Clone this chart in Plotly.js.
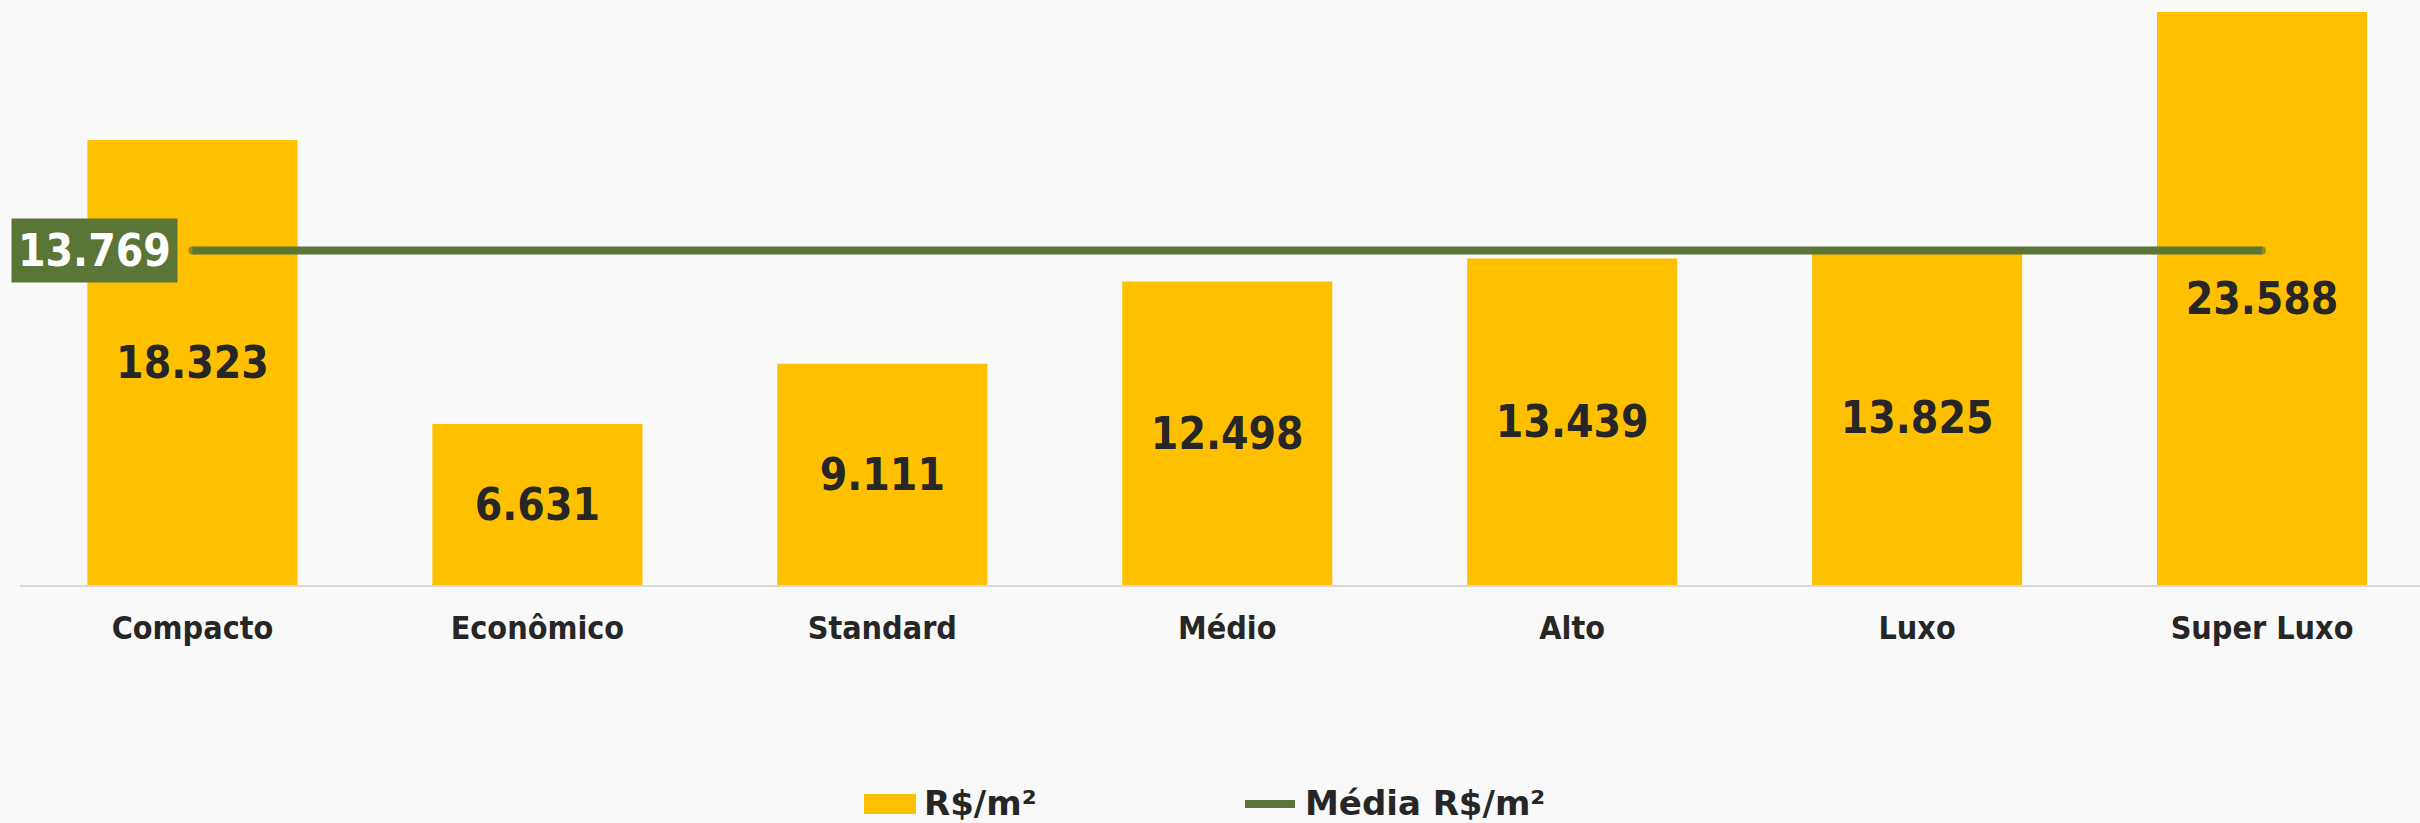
<!DOCTYPE html>
<html>
<head>
<meta charset="utf-8">
<script src="https://cdn.plot.ly/plotly-3.0.1.min.js"></script>
<style>
html,body{margin:0;padding:0;background:#f9f9f9;}
#chart{width:2420px;height:823px;}
</style>
</head>
<body>
<div id="chart"></div>
<script>
const categories = ['Compacto', 'Econômico', 'Standard', 'Médio', 'Alto', 'Luxo', 'Super Luxo'];
const valuesM2 = [18323, 6631, 9111, 12498, 13439, 13825, 23588];
const averageM2 = 13769;
const averageSeries = categories.map(() => averageM2);
const seriesNames = ['R$/m²', 'Média R$/m²'];

const FONT = 'DejaVu Sans Condensed, DejaVu Sans, sans-serif';
const DARK = '#262626';
const GOLD = '#ffc000';
const GREEN = '#5b7536';

function fmtBR(n) {
  return String(Math.round(n)).replace(/\B(?=(\d{3})+(?!\d))/g, '.');
}

// plot area: left 20px, width 2400px, top 0, height 585px
const L = 20, W = 2400, H = 585;
const px = v => (v - L) / W;
const py = v => (H - v) / H;

const bars = {
  type: 'bar',
  name: seriesNames[0],
  x: categories,
  y: valuesM2,
  width: 0.609,
  marker: {color: GOLD},
  texttemplate: '%{y:,.0f}',
  textposition: 'inside',
  insidetextanchor: 'middle',
  textangle: 0,
  constraintext: 'none',
  textfont: {family: FONT, size: 44, color: DARK, weight: 'bold'},
  hoverinfo: 'skip'
};

// round line caps: markers only at the two ends
const capSizes = categories.map((c, i) => (i === 0 || i === categories.length - 1) ? 8 : 0);

const avgLine = {
  type: 'scatter',
  mode: 'lines+markers',
  name: seriesNames[1],
  x: categories,
  y: averageSeries,
  line: {color: GREEN, width: 8},
  marker: {color: GREEN, size: capSizes, line: {width: 0}},
  hoverinfo: 'skip'
};

const layout = {
  width: 2420,
  height: 823,
  margin: {l: L, r: 0, t: 0, b: 823 - H, pad: 0},
  paper_bgcolor: '#f9f9f9',
  plot_bgcolor: '#f9f9f9',
  separators: ',.',
  showlegend: false,
  xaxis: {
    type: 'category',
    range: [-0.5, 6.458],
    showgrid: false,
    zeroline: false,
    showline: true,
    linecolor: '#d9d9d9',
    linewidth: 2,
    ticks: '',
    ticklabelstandoff: 14,
    tickfont: {family: FONT, size: 32, color: DARK, weight: 'bold'}
  },
  yaxis: {
    range: [0, 24082],
    showgrid: false,
    zeroline: false,
    showline: false,
    showticklabels: false,
    ticks: ''
  },
  annotations: [
    {
      xref: 'paper', yref: 'y',
      x: px(178), y: averageM2,
      xanchor: 'right', yanchor: 'middle',
      text: fmtBR(averageM2),
      showarrow: false,
      bgcolor: GREEN,
      borderpad: 6,
      font: {family: FONT, size: 44, color: '#ffffff', weight: 'bold'}
    },
    {
      xref: 'paper', yref: 'paper',
      x: px(922), y: py(803),
      xanchor: 'left', yanchor: 'middle',
      text: seriesNames[0], showarrow: false,
      font: {family: 'DejaVu Sans, sans-serif', size: 34, color: DARK, weight: 'bold'}
    },
    {
      xref: 'paper', yref: 'paper',
      x: px(1303), y: py(803),
      xanchor: 'left', yanchor: 'middle',
      text: seriesNames[1], showarrow: false,
      font: {family: 'DejaVu Sans, sans-serif', size: 34, color: DARK, weight: 'bold'}
    }
  ],
  shapes: [
    {
      type: 'rect', xref: 'paper', yref: 'paper',
      x0: px(864), x1: px(916), y0: py(814), y1: py(794),
      fillcolor: GOLD, line: {width: 0}
    },
    {
      type: 'line', xref: 'paper', yref: 'paper',
      x0: px(1245), x1: px(1295), y0: py(804), y1: py(804),
      line: {color: GREEN, width: 8}
    }
  ]
};

Plotly.newPlot('chart', [bars, avgLine], layout, {staticPlot: true, displayModeBar: false});
</script>
</body>
</html>
